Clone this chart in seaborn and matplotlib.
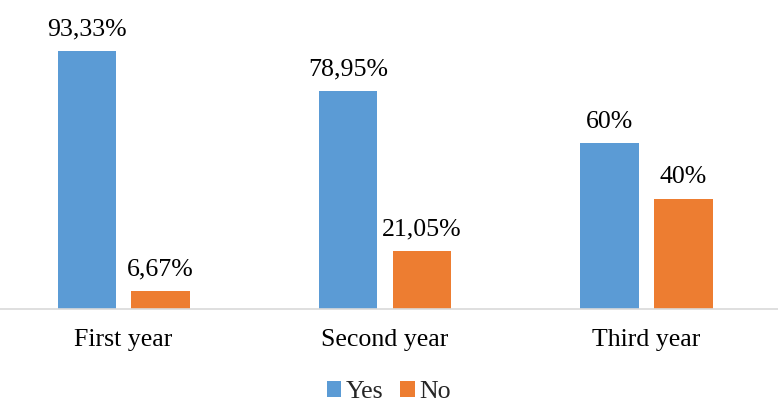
import pandas as pd
import matplotlib.pyplot as plt
import seaborn as sns

# values
years = ["First year", "Second year", "Third year"]
yes_values = [93.33, 78.95, 60.0]
no_values = [6.67, 21.05, 40.0]
yes_labels = ["93,33%", "78,95%", "60%"]
no_labels = ["6,67%", "21,05%", "40%"]
answers = ["Yes", "No"]
colors = {"Yes": "#5B9BD5", "No": "#ED7D31"}


def answers_by_year():
    df = pd.DataFrame({
        "year": years * 2,
        "answer": ["Yes"] * len(years) + ["No"] * len(years),
        "percent": yes_values + no_values,
    })

    sns.set_style("white")
    plt.rcParams["font.family"] = ["Liberation Serif", "DejaVu Serif"]

    fig = plt.figure(figsize=(7.78, 4.07), dpi=100)
    ax = fig.add_axes([0, 0.2396, 1, 0.6806])

    sns.barplot(x="year", y="percent", hue="answer", data=df,
                hue_order=answers, palette=colors, width=0.566, gap=0.212,
                saturation=1, linewidth=0, ax=ax)

    for container, labels in zip(ax.containers, [yes_labels, no_labels]):
        ax.bar_label(container, labels=labels, padding=7.5, fontsize=18.6,
                     color="black")

    ax.set_xlim(-0.473, 2.503)
    ax.set_ylim(0, 100)
    ax.set_xlabel("")
    ax.set_ylabel("")
    ax.set_yticks([])
    for side in ["left", "right", "top"]:
        ax.spines[side].set_visible(False)
    ax.spines["bottom"].set_color("#d9d9d9")
    ax.spines["bottom"].set_linewidth(1.2)
    ax.tick_params(axis="x", length=0, pad=14, labelsize=18.6, labelcolor="black")

    ax.legend_.remove()
    handles, labels = ax.get_legend_handles_labels()
    fig.legend(handles, labels, loc="center", bbox_to_anchor=(0.5, 0.037),
               ncol=2, frameon=False, fontsize=18.6, handlelength=0.55,
               handleheight=0.55, handletextpad=0.2, columnspacing=0.65)

    fig.savefig("out.png", dpi=100)


if __name__ == "__main__":
    answers_by_year()
